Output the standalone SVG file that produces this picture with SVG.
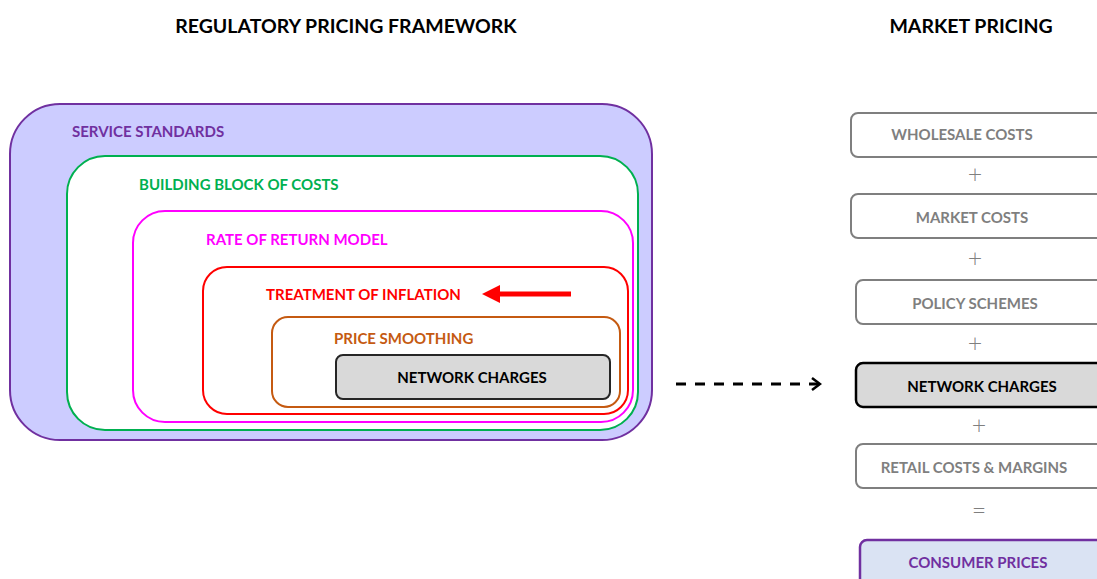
<svg xmlns="http://www.w3.org/2000/svg" width="1097" height="579" viewBox="0 0 1097 579">
  <style>
    text { font-family: Lato, "Open Sans", "Liberation Sans", sans-serif; font-weight: 700; }
    .title { font-size: 19.5px; fill: #000; text-anchor: middle; }
    .lbl { font-size: 15px; }
    .mk { fill: #fff; stroke: #7f7f7f; stroke-width: 2; }
    .mkt { font-size: 15px; fill: #7f7f7f; text-anchor: middle; }
    .op { font-size: 25px; font-weight: 300; fill: #7f7f7f; text-anchor: middle; }
  </style>
  <defs>
    <marker id="chev" markerWidth="12" markerHeight="14" refX="10" refY="7" orient="auto" markerUnits="userSpaceOnUse">
      <path d="M2,1 L10,7 L2,13" fill="none" stroke="#000" stroke-width="2.5"/>
    </marker>
  </defs>
  <rect width="1097" height="579" fill="#fff"/>

  <text class="title" x="346" y="33">REGULATORY PRICING FRAMEWORK</text>
  <text class="title" x="971" y="33">MARKET PRICING</text>

  <!-- nested regulatory layers -->
  <g id="service-standards">
    <rect x="10" y="104" width="642" height="336" rx="50" fill="#ccccff" stroke="#7030a0" stroke-width="2"/>
    <text class="lbl" x="72" y="137" fill="#7030a0">SERVICE STANDARDS</text>
  </g>
  <g id="building-block">
    <rect x="67" y="156" width="571" height="274" rx="38" fill="#fff" stroke="#00b050" stroke-width="2"/>
    <text class="lbl" x="139" y="190" fill="#00b050">BUILDING BLOCK OF COSTS</text>
  </g>
  <g id="rate-of-return">
    <rect x="133" y="211" width="500" height="211" rx="32" fill="#fff" stroke="#ff00ff" stroke-width="2"/>
    <text class="lbl" x="206" y="245" fill="#ff00ff">RATE OF RETURN MODEL</text>
  </g>
  <g id="inflation">
    <rect x="203" y="267" width="425" height="147" rx="24" fill="#fff" stroke="#ff0000" stroke-width="2"/>
    <text class="lbl" x="266" y="300" fill="#ff0000">TREATMENT OF INFLATION</text>
  </g>
  <g id="price-smoothing">
    <rect x="272" y="317" width="348" height="90" rx="16" fill="#fff" stroke="#c55a11" stroke-width="2"/>
    <text class="lbl" x="334" y="344" fill="#c55a11">PRICE SMOOTHING</text>
  </g>
  <g id="network-charges-left">
    <rect x="336" y="355" width="274" height="44" rx="7" fill="#d9d9d9" stroke="#262626" stroke-width="2"/>
    <text class="lbl" x="472" y="383" fill="#000" text-anchor="middle">NETWORK CHARGES</text>
  </g>

  <!-- market pricing stack -->
  <g id="wholesale">
    <rect class="mk" x="851" y="113" width="260" height="44" rx="7"/>
    <text class="mkt" x="962" y="140">WHOLESALE COSTS</text>
  </g>
  <text class="op" x="975" y="183">+</text>
  <g id="market-costs">
    <rect class="mk" x="851" y="194" width="260" height="44" rx="7"/>
    <text class="mkt" x="972" y="223">MARKET COSTS</text>
  </g>
  <text class="op" x="975" y="267">+</text>
  <g id="policy">
    <rect class="mk" x="856" y="280" width="260" height="44" rx="7"/>
    <text class="mkt" x="975" y="309">POLICY SCHEMES</text>
  </g>
  <text class="op" x="975" y="352">+</text>
  <g id="network-charges-right">
    <rect x="856" y="363" width="260" height="44" rx="7" fill="#d9d9d9" stroke="#000" stroke-width="2.5"/>
    <text class="lbl" x="982" y="392" fill="#000" text-anchor="middle">NETWORK CHARGES</text>
  </g>
  <text class="op" x="979" y="434">+</text>
  <g id="retail">
    <rect class="mk" x="856" y="444" width="260" height="44" rx="7"/>
    <text class="mkt" x="974" y="473">RETAIL COSTS &amp; MARGINS</text>
  </g>
  <text class="op" x="979" y="519">=</text>
  <g id="consumer">
    <rect x="860" y="540" width="260" height="50" rx="7" fill="#dae3f3" stroke="#7030a0" stroke-width="2.5"/>
    <text class="lbl" x="978" y="568" fill="#7030a0" text-anchor="middle">CONSUMER PRICES</text>
  </g>

  <g id="connectors">
    <!-- inflation pointer -->
    <line x1="571" y1="294" x2="498" y2="294" stroke="#ff0000" stroke-width="5"/>
    <polygon points="482,294 500,285 500,303" fill="#ff0000"/>
    <!-- link to market stack -->
    <line x1="676" y1="384" x2="820" y2="384" stroke="#000" stroke-width="3" stroke-dasharray="10,9" marker-end="url(#chev)"/>
  </g>
</svg>
